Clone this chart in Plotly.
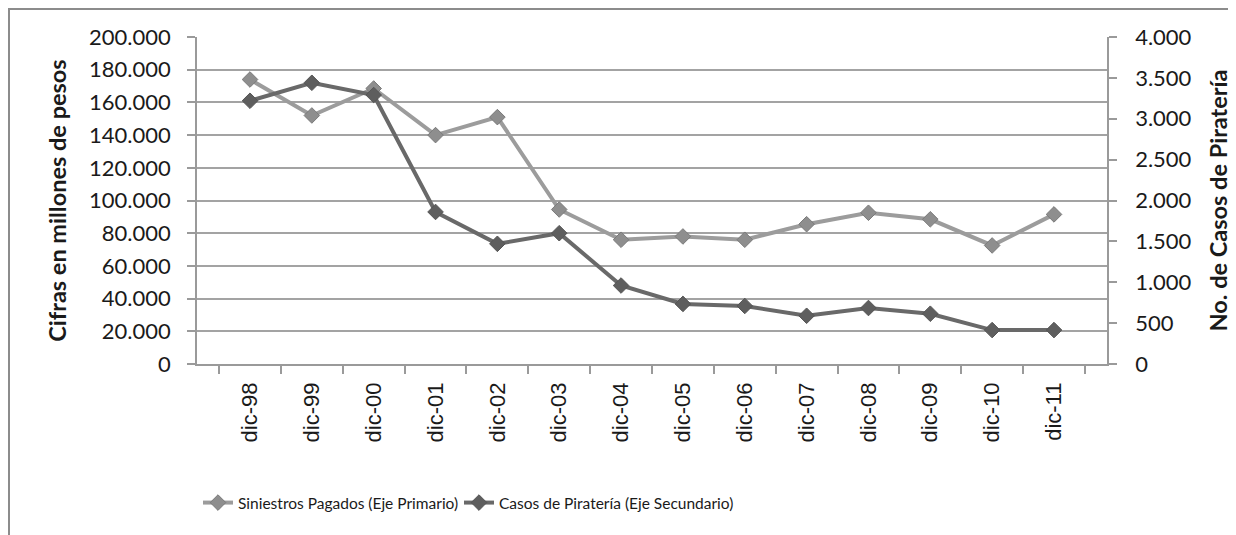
import plotly.graph_objects as go

categories = ["dic-98", "dic-99", "dic-00", "dic-01", "dic-02", "dic-03", "dic-04",
              "dic-05", "dic-06", "dic-07", "dic-08", "dic-09", "dic-10", "dic-11"]
siniestros = [174000, 152000, 168500, 140000, 151000, 94500, 76000,
              78000, 76000, 85500, 92500, 88500, 72500, 91500]
pirateria = [3220, 3440, 3290, 1860, 1470, 1600, 960,
             735, 710, 590, 685, 615, 415, 415]

name1 = "Siniestros Pagados (Eje Primario)"
name2 = "Casos de Piratería (Eje Secundario)"
left_title = "Cifras en millones de pesos"
right_title = "No. de Casos de Piratería"

# page has an 8px body margin; work in page pixels and convert
OFF = 8
W, H = 1236 - OFF, 535 - OFF
PL, PR, PT, PB = 197, 1107, 37, 364   # plot area in page pixels
L, R, T, B = PL - OFF, W - (PR - OFF), PT - OFF, H - (PB - OFF)
pw, ph = PR - PL, PB - PT

def px_x(p):
    return (p - PL) / pw

def px_y(p):
    return (PB - p) / ph

fig = go.Figure()
fig.add_trace(go.Scatter(
    x=categories, y=siniestros, name=name1, mode="lines+markers",
    line=dict(color="#9c9c9c", width=4),
    marker=dict(symbol="diamond", size=12, color="#8e8e8e",
                line=dict(color="#7a7a7a", width=1)),
    yaxis="y", legend="legend",
))
fig.add_trace(go.Scatter(
    x=categories, y=pirateria, name=name2, mode="lines+markers",
    line=dict(color="#696969", width=4),
    marker=dict(symbol="diamond", size=12, color="#5e5e5e",
                line=dict(color="#555555", width=1)),
    yaxis="y2", legend="legend2",
))

tick_font = dict(family="Lato", size=22, color="#1a1a1a")
title_font = dict(family="Lato", size=23.5, color="#1a1a1a", weight="bold")
legend_font = dict(family="Lato", size=15.5, color="#1a1a1a")

fig.update_layout(
    width=W, height=H,
    margin=dict(l=L, r=R, t=T, b=B, autoexpand=False),
    paper_bgcolor="white", plot_bgcolor="white",
    separators=",.",
    showlegend=True,
    legend=dict(orientation="h", x=px_x(198), y=px_y(503), xanchor="left", yanchor="middle",
                font=legend_font, itemwidth=30, bgcolor="rgba(0,0,0,0)"),
    legend2=dict(orientation="h", x=px_x(459), y=px_y(503), xanchor="left", yanchor="middle",
                 font=legend_font, itemwidth=30, bgcolor="rgba(0,0,0,0)"),
    xaxis=dict(
        type="category", tickson="boundaries", ticks="outside", ticklen=8,
        tickcolor="#9a9a9a", tickwidth=1.5,
        showline=True, linecolor="#9a9a9a", linewidth=1.5,
        showgrid=False, tickangle=-90,
        tickfont=dict(family="Liberation Sans", size=22, color="#1a1a1a"),
        ticklabelstandoff=8,
    ),
    yaxis=dict(
        range=[0, 200000], dtick=20000, tickformat=",d",
        ticks="outside", ticklen=8, tickcolor="#9a9a9a", tickwidth=1.5,
        showline=True, linecolor="#9a9a9a", linewidth=1.5,
        showgrid=True, gridcolor="#a3a3a3", gridwidth=1.8,
        zeroline=False,
        tickfont=tick_font, ticklabelstandoff=12,
        title=dict(text=left_title, standoff=16, font=title_font),
    ),
    yaxis2=dict(
        range=[0, 4000], dtick=500, tickformat=",d",
        overlaying="y", side="right", anchor="x",
        ticks="outside", ticklen=8, tickcolor="#9a9a9a", tickwidth=1.5,
        showline=True, linecolor="#9a9a9a", linewidth=1.5,
        showgrid=False, zeroline=False,
        tickfont=tick_font, ticklabelstandoff=14,
        title=dict(text=right_title, standoff=20, font=title_font),
    ),
    shapes=[dict(type="rect", xref="paper", yref="paper",
                 x0=px_x(OFF + 1), x1=px_x(1236 + 20), y0=px_y(535 + 20), y1=px_y(OFF + 1),
                 line=dict(color="#8c8c8c", width=2), fillcolor="rgba(0,0,0,0)",
                 layer="below")],
)

fig.write_html("out.html")
